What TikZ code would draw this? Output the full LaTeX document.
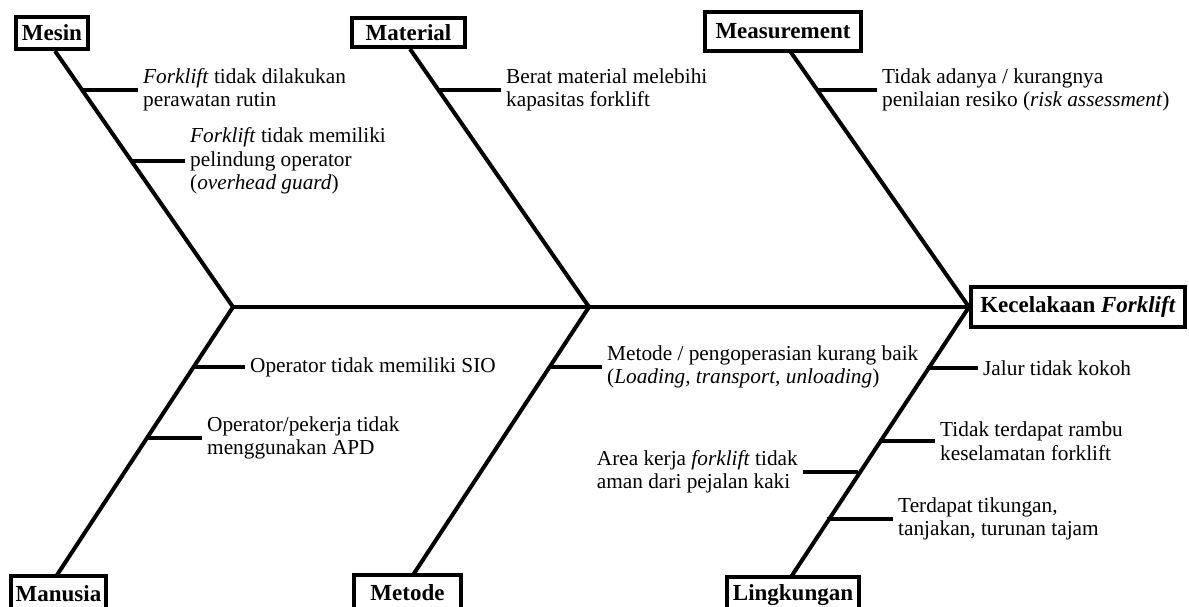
\documentclass[tikz,border=0pt]{standalone}
\usepackage{fontspec}
\setmainfont{Liberation Serif}
\usetikzlibrary{calc}
\begin{document}
\begin{tikzpicture}[x=1pt,y=-1pt,
  bone/.style={line width=4pt,line cap=butt},
  cat/.style={draw,line width=4pt,inner sep=0pt,font=\fontsize{23}{26}\selectfont\bfseries},
  cause/.style={inner xsep=5pt,inner ysep=0pt,align=left,font=\fontsize{21.3}{23.5}\selectfont}]
\useasboundingbox (0,0) rectangle (1189,606);
\clip (0,0) rectangle (1189,606);
% category boxes
\node[cat,minimum width=72pt,minimum height=32pt] (mesin) at (52,33) {Mesin};
\node[cat,minimum width=113pt,minimum height=29pt] (material) at (408.5,32.5) {Material};
\node[cat,minimum width=156pt,minimum height=39pt] (meas) at (783,31.5) {Measurement};
\node[cat,minimum width=214pt,minimum height=40pt] (head) at (1078,307) {Kecelakaan \textit{Forklift}};
\node[cat,minimum width=95pt,minimum height=36pt] (manusia) at (58.5,594) {Manusia};
\node[cat,minimum width=107pt,minimum height=36pt] (metode) at (407.5,593) {Metode};
\node[cat,minimum width=132pt,minimum height=36pt] (lingk) at (793,595) {Lingkungan};
% joints on the spine
\coordinate (j1) at (233,307);
\coordinate (j2) at (589,307);
\coordinate (j3) at (head.west);
% bone tops
\coordinate (mesinT) at (55,51);
\coordinate (matT) at (410,49);
\coordinate (measT) at (790,51);
\coordinate (manT) at (57,575);
\coordinate (metT) at (413,575);
\coordinate (linT) at (791,577);
% spine and bones
\draw[bone] (j1) -- (j3);
\draw[bone] (mesinT) -- (j1) -- (manT);
\draw[bone] (matT) -- (j2) -- (metT);
\draw[bone] (measT) -- (j3) -- (linT);
% cause texts
\node[cause,anchor=west] (c1) at (138,90) {\textit{Forklift} tidak dilakukan\\perawatan rutin};
\node[cause,anchor=west] (c2) at (185,161) {\textit{Forklift} tidak memiliki\\pelindung operator\\(\textit{overhead guard})};
\node[cause,anchor=west] (c3) at (501,90) {Berat material melebihi\\kapasitas forklift};
\node[cause,anchor=west] (c4) at (877,90) {Tidak adanya / kurangnya\\penilaian resiko (\textit{risk assessment})};
\node[cause,anchor=west] (c5) at (245,367) {Operator tidak memiliki SIO};
\node[cause,anchor=west] (c6) at (202,438) {Operator/pekerja tidak\\menggunakan APD};
\node[cause,anchor=west] (c7) at (602,367) {Metode / pengoperasian kurang baik\\(\textit{Loading, transport, unloading})};
\node[cause,anchor=west] (c8) at (978,368) {Jalur tidak kokoh};
\node[cause,anchor=west] (c9) at (935,441) {Tidak terdapat rambu\\keselamatan forklift};
\node[cause,anchor=east] (c10) at (803,472) {Area kerja \textit{forklift} tidak\\aman dari pejalan kaki};
\node[cause,anchor=west] (c11) at (893,519) {Terdapat tikungan,\\tanjakan, turunan tajam};
% points on bones
\coordinate (b1) at (82,90);
\coordinate (b2) at (131.5,161);
\coordinate (b3) at (437,90);
\coordinate (b4) at (816,90);
\coordinate (b5) at (193.5,367);
\coordinate (b6) at (147,438);
\coordinate (b7) at (549,367);
\coordinate (b8) at (927,368);
\coordinate (b9) at (879,441);
\coordinate (b10) at (858,472);
\coordinate (b11) at (827,519);
% sub-branches
\foreach \i in {1,...,9,11} \draw[bone] (b\i) -- (c\i.west);
\draw[bone] (b10) -- (c10.east);
\end{tikzpicture}
\end{document}
